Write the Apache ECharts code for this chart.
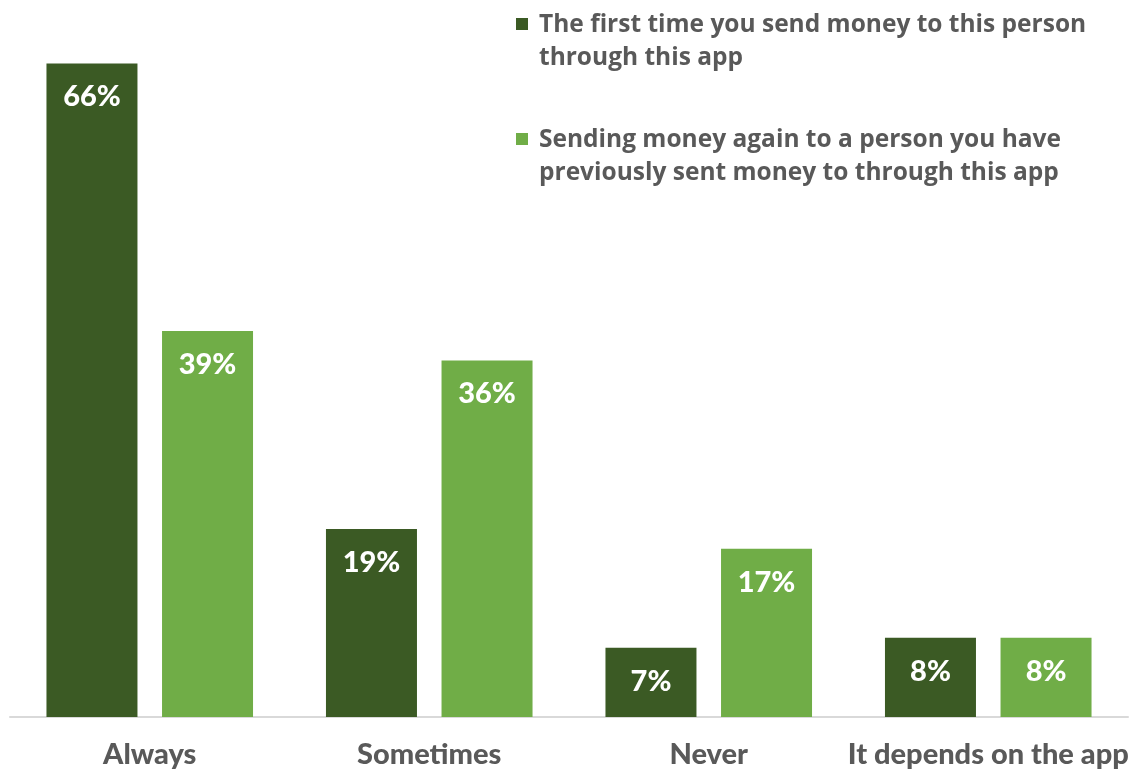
<!DOCTYPE html>
<html>
<head>
<meta charset="utf-8">
<script src="https://cdn.jsdelivr.net/npm/echarts@6/dist/echarts.min.js"></script>
<style>
  html, body { margin: 0; padding: 0; background: #fff; }
  #main { width: 1140px; height: 772px; }
</style>
</head>
<body>
<div id="main"></div>
<script>
// 数据
var categories = ['Always', 'Sometimes', 'Never', 'It depends on the app'];
var seriesNames = [
  'The first time you send money to this person\nthrough this app',
  'Sending money again to a person you have\npreviously sent money to through this app'
];
var firstTime = [66, 19, 7, 8];
var againTime = [39, 36, 17, 8];

var DARK = '#3b5a24';
var LIGHT = '#70ad47';
var FONT = 'Lato, "Noto Sans", sans-serif';
var LEGEND_FONT = '"Open Sans", Lato, sans-serif';

var myChart = echarts.init(document.getElementById('main'));

var labelOpt = {
  show: true,
  position: 'insideTop',
  distance: 19,
  color: '#fff',
  fontFamily: FONT,
  fontWeight: 900,
  fontSize: 29,
  formatter: '{c}%'
};

var option = {
  animation: false,
  grid: { left: 10, right: 12, top: 24, bottom: 55, containLabel: false },
  xAxis: {
    type: 'category',
    data: categories,
    axisLine: { lineStyle: { color: '#d9d9d9', width: 2 } },
    axisTick: { show: false },
    axisLabel: {
      interval: 0,
      color: '#595959',
      fontFamily: FONT,
      fontWeight: 900,
      fontSize: 29,
      margin: 23
    }
  },
  yAxis: {
    type: 'value',
    min: 0,
    max: 70,
    show: false,
    splitLine: { show: false }
  },
  series: [
    {
      name: seriesNames[0],
      type: 'bar',
      data: firstTime,
      barWidth: 91,
      barGap: '27%',
      itemStyle: { color: DARK },
      label: labelOpt
    },
    {
      name: seriesNames[1],
      type: 'bar',
      data: againTime,
      barWidth: 91,
      itemStyle: { color: LIGHT },
      label: labelOpt
    }
  ],
  // 图例用 graphic 画，便于控制图标对齐第一行
  graphic: [
    { type: 'rect', left: 516, top: 18, shape: { width: 12, height: 12 }, style: { fill: DARK } },
    { type: 'text', left: 539, top: 9, style: { text: seriesNames[0], fill: '#595959', font: 'bold 24.5px ' + LEGEND_FONT, lineHeight: 33 } },
    { type: 'rect', left: 516, top: 133, shape: { width: 12, height: 12 }, style: { fill: LIGHT } },
    { type: 'text', left: 539, top: 124, style: { text: seriesNames[1], fill: '#595959', font: 'bold 24.5px ' + LEGEND_FONT, lineHeight: 33 } }
  ]
};

myChart.setOption(option);
</script>
</body>
</html>
